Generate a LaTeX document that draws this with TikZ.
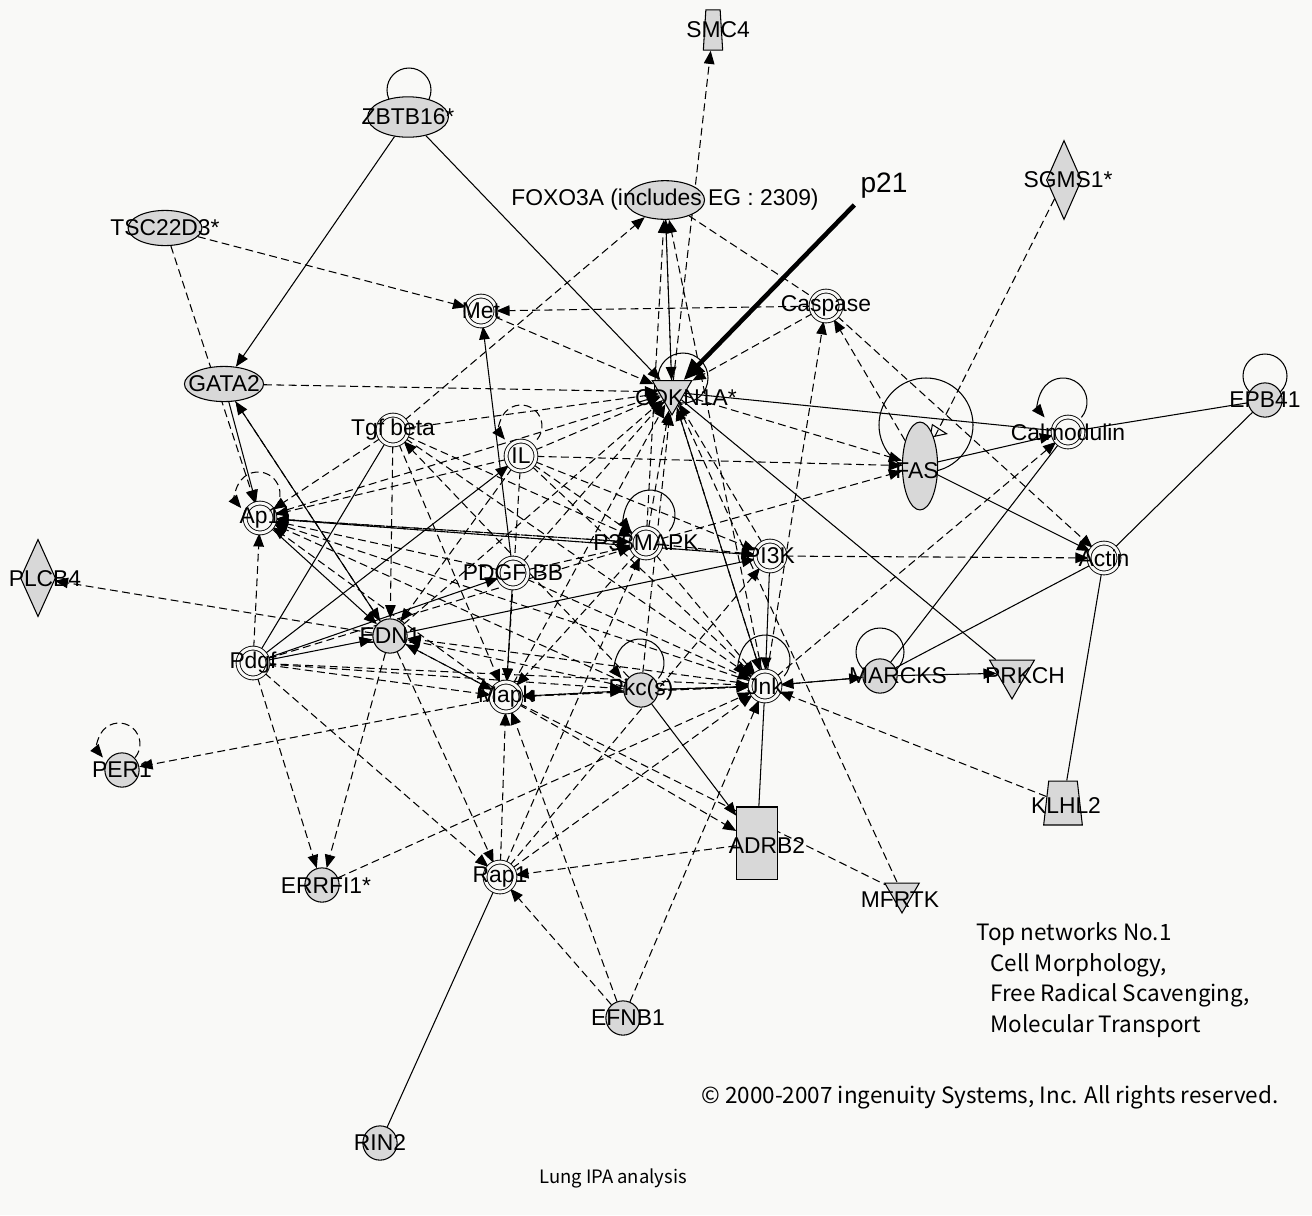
\documentclass[tikz,border=0pt]{standalone}
\usepackage{fontspec}
\setmainfont{Liberation Sans}
\newfontfamily\gothic{Noto Sans CJK JP}
\usepackage{tikz}
\usetikzlibrary{positioning,arrows.meta,shapes.geometric,backgrounds}
\definecolor{paper}{RGB}{249,249,247}
\definecolor{genegray}{RGB}{216,216,216}

\begin{document}
\begin{tikzpicture}[x=0.02cm,y=-0.02cm,
    font=\fontsize{13}{15}\selectfont,
    dc/.style={circle,draw,fill=paper,double=paper,double distance=1.7pt,line width=0.5pt,minimum size=17pt,inner sep=0pt},
    gc/.style={circle,draw,fill=genegray,line width=0.6pt,minimum size=19.5pt,inner sep=0pt},
    oval/.style={ellipse,draw,fill=genegray,line width=0.6pt,inner sep=1pt},
    tri/.style={regular polygon,regular polygon sides=3,shape border rotate=180,draw,fill=genegray,line width=0.6pt,inner sep=1pt},
    trap/.style={trapezium,trapezium left angle=80,trapezium right angle=80,trapezium stretches=true,draw,fill=genegray,line width=0.6pt,inner sep=1pt},
    dia/.style={diamond,draw,fill=genegray,line width=0.6pt,inner sep=1pt},
    box/.style={rectangle,draw,fill=genegray,line width=0.6pt,inner sep=1pt},
    sa/.style={-{Triangle[length=7.5pt,width=6pt]},line width=0.6pt},
    da/.style={sa,dash pattern=on 4.5pt off 2.5pt},
    sl/.style={line width=0.6pt},
    dl/.style={sl,dash pattern=on 4.5pt off 2.5pt},
    note/.style={font=\gothic\fontsize{12.8}{17.6}\selectfont}]
    \useasboundingbox (0,0) rectangle (1312,1215);

    % genes and groups
    \node[trap,minimum width=11pt,minimum height=23pt,label={[shift={(5,0)}]center:SMC4}] (smc) at (713,30) {};
    \node[oval,minimum width=46pt,minimum height=23pt,label=center:ZBTB16*] (zbtb) at (408,117) {};
    \node[oval,minimum width=45pt,minimum height=22pt,label=center:{FOXO3A (includes EG : 2309)}] (foxo) at (665,200) {};
    \node[dia,minimum width=20pt,minimum height=45pt,label={[shift={(4,0)}]center:SGMS1*}] (sgms) at (1064,180) {};
    \node[oval,minimum width=42pt,minimum height=20pt,label=center:TSC22D3*] (tsc) at (165,228) {};
    \node[dc,label=center:Met] (met) at (481,311) {};
    \node[dc,label=center:Caspase] (casp) at (826,306) {};
    \node[oval,minimum width=45pt,minimum height=20pt,label=center:GATA2] (gata) at (224,384) {};
    \node[tri,minimum size=26pt,label={[shift={(14,6)}]center:CDKN1A*}] (cdkn) at (672,392) {};
    \node[dc,label=center:{Tgf beta}] (tgf) at (393,430) {};
    \node[dc,label=center:IL] (il) at (521,456) {};
    \node[oval,minimum width=20pt,minimum height=50pt,label={[shift={(-3,5)}]center:FAS}] (fas) at (920,466) {};
    \node[dc,label=center:Calmodulin] (calm) at (1068,432) {};
    \node[gc,label=center:EPB41] (epb) at (1265,400) {};
    \node[dc,label=center:Ap1] (ap1) at (260,518) {};
    \node[dc,label=center:P38MAPK] (p38) at (646,543) {};
    \node[dc,label=center:{PDGF BB}] (pdgf) at (513,573) {};
    \node[dc,label=center:PI3K] (pi3k) at (770,556) {};
    \node[dc,label=center:Actin] (actin) at (1104,558) {};
    \node[dia,minimum width=20pt,minimum height=44pt,label={[shift={(7,1)}]center:PLCB4}] (plcb) at (38,578) {};
    \node[gc,label=center:EDN1] (edn) at (390,636) {};
    \node[dc,label=center:Pdgf] (pdgfc) at (253,663) {};
    \node[dc,label=center:Mapk] (mapk) at (506,697) {};
    \node[gc,label=center:Pkc(s)] (pkc) at (641,690) {};
    \node[dc,label=center:Jnk] (jnk) at (765,686) {};
    \node[gc,label={[shift={(18,0)}]center:MARCKS}] (marcks) at (880,676) {};
    \node[tri,minimum size=29.5pt,label={[shift={(13,3)}]center:PRKCH}] (prkch) at (1012,673) {};
    \node[gc,label=center:PER1] (per) at (122,770) {};
    \node[trap,minimum width=22pt,minimum height=25pt,label={[shift={(3,3)}]center:KLHL2}] (klhl) at (1063,803) {};
    \node[box,minimum width=23pt,minimum height=41pt,label={[shift={(10,3)}]center:ADRB2}] (adrb) at (757,843) {};
    \node[gc,label={[shift={(4,1)}]center:ERRFI1*}] (errfi) at (322,885) {};
    \node[dc,label=center:Rap1] (rap) at (500,877) {};
    \node[tri,minimum size=22.7pt,label={[shift={(-2,7)}]center:MFRTK}] (mfrtk) at (902,893) {};
    \node[gc,label={[shift={(5,0)}]center:EFNB1}] (efnb) at (623,1018) {};
    \node[gc,label=center:RIN2] (rin) at (380,1143) {};

    % marker
    \node[font=\fontsize{16}{18}\selectfont] (p21) at (884,186) {p21};
    \draw[line width=2.6pt,-{Triangle[length=12pt,width=10pt]}] (p21.south west) -- (cdkn);

    % notes
    \node[note,align=left,anchor=north west] (topnet) at (970,916) {Top networks No.1\\\hspace*{8pt}Cell Morphology,\\\hspace*{8pt}Free Radical Scavenging,\\\hspace*{8pt}Molecular Transport};
    \node[note] (copy) at (990,1097) {© 2000-2007 ingenuity Systems, Inc. All rights reserved.};
    \node[note,font=\gothic\fontsize{10.5}{13}\selectfont] (lung) at (613,1178) {Lung IPA analysis};

    \begin{pgfonlayer}{background}
    \fill[paper] (0,0) rectangle (1312,1215);
    % self loops
    \draw[sl] ([shift={(1,-27)}]zbtb.center) circle[radius=22];
    \draw[sl] ([shift={(11,-14)}]cdkn.center) circle[radius=25];
    \draw[sl] ([shift={(0,-24)}]epb.center) circle[radius=22];
    \draw[sl] ([shift={(0,-24)}]marcks.center) circle[radius=24];
    \draw[sl] ([shift={(6,-41)}]fas.center) circle[radius=47];
    \draw[sl,-{Triangle[open,length=10pt,width=8pt]}] ([shift={(6,-36)}]fas.center) -- ([shift={(28,-32)}]fas.center);
    \draw[sa] ([shift={(13.4,-14.6)}]calm.center) arc[start angle=40,end angle=-220,radius=24];
    \draw[sa] ([shift={(23.2,-11.9)}]p38.center) arc[start angle=40,end angle=-220,radius=25];
    \draw[sa] ([shift={(17.4,-11.6)}]pkc.center) arc[start angle=40,end angle=-220,radius=24];
    \draw[sa] ([shift={(19.2,-9.9)}]jnk.center) arc[start angle=40,end angle=-220,radius=25];
    \draw[da] ([shift={(16.1,-16.5)}]il.center) arc[start angle=40,end angle=-220,radius=21];
    \draw[da] ([shift={(14.9,-9.9)}]ap1.center) arc[start angle=40,end angle=-220,radius=22];
    \draw[da] ([shift={(13.1,-12.5)}]per.center) arc[start angle=40,end angle=-220,radius=21];

    % solid links
    \draw[sa] (zbtb) edge (gata) edge (cdkn);
    \draw[sa] (gata) edge (ap1) edge (edn);
    \draw[sa] (ap1) edge (edn);
    \draw[sa] (pdgfc) edge (il) edge (pdgf) edge (edn);
    \draw[sa] (edn) edge (pi3k);
    \draw[sa] (pdgf) edge (met) edge (mapk);
    \draw[sa] (fas) edge (calm) edge (actin);
    \draw[sa] (cdkn) edge (jnk);
    \draw[sa] (pi3k) edge (jnk);
    \draw[sa] (marcks) edge (jnk) edge (prkch);
    \draw[sa] (pkc) edge (adrb);
    \draw[sl] (pdgfc) edge (tgf);
    \draw[sl] (cdkn) edge (calm) edge (prkch);
    \draw[sl] (calm) edge (epb) edge (marcks);
    \draw[sl] (epb) edge (actin);
    \draw[sl] (actin) edge (marcks) edge (klhl);
    \draw[sl] (jnk) edge (adrb) edge (pkc);
    \draw[sl] (rap) edge (rin);

    % dashed links
    \draw[da] (tsc) edge (met) edge (ap1);
    \draw[da] (gata) edge (cdkn);
    \draw[da] (met) edge (cdkn);
    \draw[da] (casp) edge (met) edge (cdkn) edge (actin);
    \draw[da] (foxo) edge (cdkn);
    \draw[dl] (foxo) edge (casp);
    \draw[da] (tgf) edge (foxo) edge (cdkn) edge (ap1) edge (edn) edge (mapk) edge (p38) edge (jnk);
    \draw[da] (cdkn) edge (smc) edge (foxo) edge (fas);
    \draw[da] (il) edge (cdkn) edge (fas) edge (ap1) edge (mapk) edge (p38) edge (pi3k) edge (jnk) edge (edn);
    \draw[da] (ap1) edge (cdkn) edge (p38) edge (pi3k);
    \draw[da] (edn) edge (plcb) edge (gata) edge (errfi) edge (rap) edge (mapk) edge (cdkn);
    \draw[da] (pdgfc) edge (ap1) edge (mapk) edge (errfi) edge (rap) edge (p38) edge (jnk) edge (pkc);
    \draw[da] (pdgf) edge (p38) edge (cdkn) edge (ap1) edge (jnk);
    \draw[da] (p38) edge (cdkn) edge (foxo) edge (fas) edge (ap1) edge (pi3k) edge (mapk) edge (jnk);
    \draw[da] (pi3k) edge (cdkn) edge (actin) edge (ap1);
    \draw[da] (mapk) edge (pkc) edge (per) edge (cdkn) edge (ap1) edge (jnk) edge (adrb) edge (edn);
    \draw[dl] (mapk) edge (mfrtk);
    \draw[da] (pkc) edge (mapk) edge (tgf) edge (cdkn) edge (ap1) edge (edn) edge (jnk);
    \draw[da] (jnk) edge (marcks) edge (foxo) edge (casp) edge (calm) edge (cdkn) edge (ap1) edge (edn) edge (mapk);
    \draw[da] (klhl) edge (jnk);
    \draw[dl] (sgms) edge (fas);
    \draw[da] (adrb) edge (rap);
    \draw[da] (rap) edge (mapk) edge (jnk) edge (p38) edge (pi3k);
    \draw[da] (errfi) edge (jnk);
    \draw[da] (efnb) edge (rap) edge (mapk) edge (jnk);
    \draw[dl] (cdkn) edge (mfrtk);
    \draw[da] (fas) edge (casp);
    \end{pgfonlayer}
\end{tikzpicture}
\end{document}
